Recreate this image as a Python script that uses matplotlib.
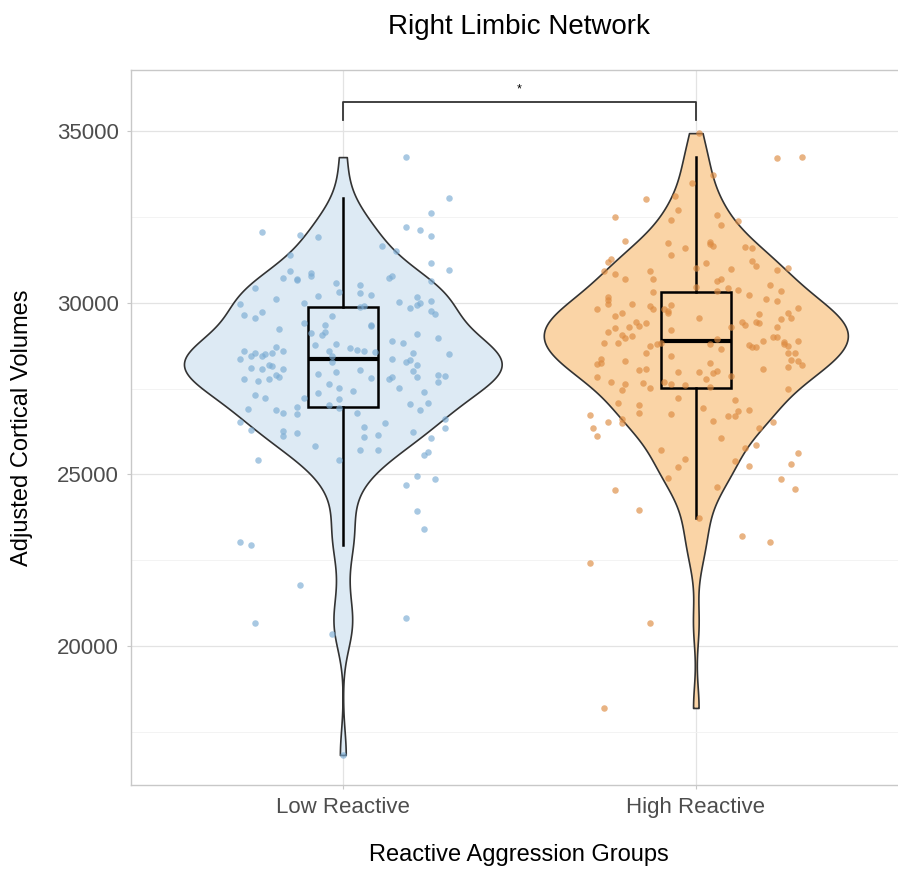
import numpy as np
import matplotlib
matplotlib.use("Agg")
import matplotlib.pyplot as plt

plt.rcParams['font.family'] = ['Liberation Sans', 'DejaVu Sans']

# ================= DATA =================
GROUPS = ["Low Reactive", "High Reactive"]

# values (adjusted cortical volume)
low_values = [
    32058, 31962, 31904, 31380, 30922, 30727, 30681, 30660, 30855, 30777,
    30582, 30436, 30302, 30107, 30203, 29999, 29952, 29641, 29545, 29737,
    29612, 29242, 29408, 29341, 29125, 29137, 29067, 28776, 28805, 28718,
    28601, 28592, 28447, 28525, 28447, 28496, 28525, 28584, 28447,
    34243, 33057, 32612, 32195, 32125, 31933, 31659, 31505, 31147, 30960,
    30727, 30785, 30640, 30515, 30273, 30215, 30165, 30019, 30040, 29912,
    29865, 29836, 29941, 29982, 29757, 29679, 29329, 29350, 29096, 28971,
    28875, 28825, 28680, 28621, 28592, 28563, 28525, 28514, 28359, 28330,
    28359, 28106, 28077, 28185, 28155, 28059, 27785, 27718, 27768, 27893,
    27844, 27320, 27215, 27232, 26912, 26874, 26795, 26961, 26757, 26533,
    26283, 26253, 26108, 26213, 25834, 25409, 25417, 23020, 22942, 27922,
    27622, 27972, 27515, 27369, 27185, 27028, 26923, 28281,
    28263, 28193, 28018, 27844, 28030, 27806, 27844, 27777, 27506, 27902,
    27864, 27680, 27407, 27427, 27057, 27078, 26883, 26795, 26495, 26379,
    26096, 26137, 26242, 26603, 26358, 26058, 25717, 25700, 25651, 25563,
    24960, 24855, 24681, 23932, 23416,
    21768, 20679, 20350, 16825, 20807,
]
# horizontal jitter of each point (category units)
low_jitter = [
    -0.23, -0.12, -0.07, -0.15, -0.15, -0.17, -0.13, -0.13, -0.09, -0.09,
    -0.02, -0.25, -0.01, -0.19, -0.07, -0.11, -0.29, -0.28, -0.25, -0.23,
    -0.03, -0.18, -0.11, -0.05, -0.09, -0.05, -0.06, -0.08, -0.02, -0.19,
    -0.17, -0.28, -0.26, -0.25, -0.23, -0.22, -0.20, -0.04, -0.03,
    0.18, 0.30, 0.25, 0.18, 0.22, 0.25, 0.11, 0.15, 0.25, 0.30,
    0.13, 0.14, 0.25, 0.05, 0.05, 0.08, 0.21, 0.16, 0.25, 0.06,
    0.05, 0.19, 0.21, 0.22, 0.25, 0.26, 0.08, 0.08, 0.21, 0.27,
    0.14, 0.17, 0.02, 0.04, 0.06, 0.09, 0.20, 0.30, 0.14, 0.19,
    -0.29, -0.26, -0.23, -0.21, -0.20, -0.17, -0.28, -0.24, -0.21, -0.19,
    -0.18, -0.25, -0.22, -0.11, -0.27, -0.19, -0.17, -0.13, -0.13, -0.29,
    -0.26, -0.17, -0.17, -0.13, -0.08, -0.24, -0.01, -0.29, -0.26, -0.07,
    -0.04, -0.02, -0.01, -0.07, -0.01, -0.04, -0.01, -0.03,
    0.18, 0.21, 0.20, 0.21, 0.05, 0.08, 0.14, 0.13, 0.16, 0.27,
    0.29, 0.27, 0.23, 0.03, 0.19, 0.24, 0.22, 0.04, 0.12, 0.06,
    0.06, 0.10, 0.20, 0.29, 0.29, 0.25, 0.05, 0.10, 0.24, 0.23,
    0.21, 0.26, 0.18, 0.21, 0.23,
    -0.12, -0.25, -0.03, 0.00, 0.18,
]

high_values = [
    33028, 33098, 33485, 32699, 32495, 32417, 31805, 31729, 31388, 31584,
    31176, 31281, 30922, 30826, 30681, 30922, 30698, 31018, 30302, 30448,
    30174, 30086, 29961, 29807, 29970, 29903, 29824, 29612, 29708, 29824,
    29757, 29932, 29690, 29446, 29329, 29417, 29154, 29271, 29291, 29195,
    29545,
    34942, 34222, 34243, 33718, 32562, 32262, 32370, 31776, 31709, 31642,
    31613, 31601, 31222, 31059, 31164, 30981, 30951, 31018, 30698, 30631,
    30515, 30340, 30436, 30369, 30340, 30215, 30098, 30049, 29836, 29708,
    29545, 29661, 29524, 29446, 29350, 29428, 29399, 29291, 29291,
    29058, 28962, 29038, 28816, 28816, 28738, 28796, 28816, 28525, 28368,
    28222, 28251, 28310, 28455, 28030, 28077, 27989, 27826, 27680, 27622,
    27456, 27669, 27506, 27680, 27622, 27593, 27232, 27069, 27011, 26795,
    26766, 26728, 26515, 26486, 26603, 26358, 26125, 25709, 25455, 25222,
    24902, 24544, 23970,
    28796, 28942, 28659, 28243, 27989, 27943, 28018, 27785, 27873, 27535,
    28767, 28700, 28700, 28884, 29009, 29009, 28863, 28796, 28747, 28884,
    28543, 28543, 28339, 28310, 28176, 28117, 28059, 27494, 27156, 26941,
    26708, 26699, 26853, 26883, 26562, 26524, 26350, 26067, 25758, 25846,
    25613, 25310, 25388, 25243, 24873, 24564, 24640, 23719,
    23204, 23029, 22418, 20661, 18194,
]
high_jitter = [
    -0.14, -0.06, -0.01, -0.05, -0.23, -0.07, -0.20, -0.08, -0.07, -0.03,
    -0.25, -0.24, -0.26, -0.23, -0.20, -0.13, -0.12, 0.00, -0.12, 0.00,
    -0.25, -0.25, -0.25, -0.28, -0.18, -0.13, -0.12, -0.23, -0.21, -0.09,
    -0.08, -0.07, -0.08, -0.17, -0.16, -0.14, -0.25, -0.23, -0.19, -0.07,
    0.01,
    0.01, 0.23, 0.30, 0.05, 0.06, 0.07, 0.12, 0.04, 0.04, 0.05,
    0.14, 0.16, 0.16, 0.17, 0.03, 0.10, 0.23, 0.26, 0.07, 0.06,
    0.21, 0.24, 0.09, 0.12, 0.06, 0.15, 0.20, 0.23, 0.29, 0.26,
    0.27, 0.18, 0.24, 0.13, 0.14, 0.17, 0.18, 0.23, 0.10,
    -0.21, -0.20, -0.18, -0.26, -0.22, -0.13, -0.11, -0.10, -0.14, -0.27,
    -0.28, -0.27, -0.20, -0.07, -0.16, -0.14, -0.05, -0.28, -0.24, -0.20,
    -0.21, -0.15, -0.13, -0.09, -0.07, -0.03, -0.05, -0.22, -0.16, -0.16,
    -0.07, -0.30, -0.25, -0.21, -0.21, -0.29, -0.28, -0.10, -0.03, -0.05,
    -0.08, -0.23, -0.16,
    0.04, 0.06, 0.07, 0.04, 0.01, 0.05, 0.06, 0.03, 0.10, 0.04,
    0.15, 0.16, 0.17, 0.19, 0.22, 0.23, 0.25, 0.25, 0.26, 0.29,
    0.26, 0.28, 0.27, 0.29, 0.30, 0.26, 0.19, 0.26, 0.11, 0.02,
    0.09, 0.11, 0.12, 0.15, 0.05, 0.22, 0.18, 0.07, 0.14, 0.17,
    0.29, 0.27, 0.11, 0.15, 0.24, 0.28, 0.06, 0.01,
    0.13, 0.21, -0.30, -0.13, -0.26,
]

Y_TICKS = [20000, 25000, 30000, 35000]
SIG_LABEL = "*"

# ================= STYLE =================
FILL_COLORS = ["#ddeaf4", "#fad4a6"]
POINT_COLORS = ["#7aabd3", "#dc8a40"]
EDGE = "#333333"


def nrd0(x):
    # R's default bandwidth (bw.nrd0), same as ggplot's geom_violin
    x = np.asarray(x, float)
    sd = x.std(ddof=1)
    q75, q25 = np.percentile(x, [75, 25])
    lo = min(sd, (q75 - q25) / 1.34)
    return 0.9 * lo * len(x) ** (-0.2)


def density(x, n=512):
    x = np.asarray(x, float)
    bw = nrd0(x)
    grid = np.linspace(x.min(), x.max(), n)
    z = (grid[:, None] - x[None, :]) / bw
    dens = np.exp(-0.5 * z ** 2).sum(axis=1) / (len(x) * bw * np.sqrt(2 * np.pi))
    return grid, dens


fig = plt.figure(figsize=(8.98, 8.69), dpi=100)
ax = fig.add_axes([0.1459, 0.0967, 0.8648, 0.8227])

data = [low_values, high_values]
jitters = [low_jitter, high_jitter]
dens_all = [density(d) for d in data]
max_dens = max(d.max() for _, d in dens_all)

for i, (grid, dens) in enumerate(dens_all):
    pos = i + 1
    half = dens / max_dens * 0.45
    ax.fill_betweenx(grid, pos - half, pos + half, facecolor=FILL_COLORS[i],
                     edgecolor=EDGE, linewidth=1.2, zorder=2)

# boxplots (no fliers, transparent boxes)
ax.boxplot(data, positions=[1, 2], widths=0.2, showfliers=False,
           patch_artist=True, manage_ticks=False,
           boxprops=dict(facecolor="none", edgecolor="black", linewidth=1.8),
           whiskerprops=dict(color="black", linewidth=1.8),
           capprops=dict(linewidth=0),
           medianprops=dict(color="black", linewidth=3),
           zorder=3)

# jittered points
for i, (vals, jit) in enumerate(zip(data, jitters)):
    xs = np.array(jit) + i + 1
    ax.scatter(xs, vals, s=22, color=POINT_COLORS[i], alpha=0.65,
               linewidths=0, zorder=4)

# significance bracket
br_low, br_high = 35320, 35845
ax.plot([1, 1, 2, 2], [br_low, br_high, br_high, br_low], color="#333333",
        linewidth=1.3, zorder=5)
ax.text(1.5, 36030, SIG_LABEL, ha="center", va="bottom", fontsize=9)

# axes styling (theme_light look)
ax.set_xlim(0.4, 2.6)
ax.set_ylim(15950, 36780)
ax.set_xticks([1, 2])
ax.set_xticklabels(GROUPS)
ax.set_yticks(Y_TICKS)
ax.set_yticks([17500, 22500, 27500, 32500], minor=True)
ax.set_xticks([1.5], minor=True)
ax.grid(True, which="major", color="#e3e3e3", linewidth=0.9, zorder=0)
ax.grid(True, which="minor", axis="y", color="#f1f1f1", linewidth=0.6, zorder=0)
ax.set_axisbelow(True)
for sp in ax.spines.values():
    sp.set_color("#c8c8c8")
    sp.set_linewidth(1.0)
ax.tick_params(axis="both", which="major", length=3, color="#c8c8c8",
               labelsize=16, labelcolor="#4d4d4d", pad=6)
ax.tick_params(axis="both", which="minor", length=0)

fig.text(0.578, 0.969, "Right Limbic Network", ha="center", va="center",
         fontsize=20)
fig.text(0.578, 0.016, "Reactive Aggression Groups", ha="center", va="center",
         fontsize=17)
fig.text(0.024, 0.508, "Adjusted Cortical Volumes", ha="center", va="center",
         rotation=90, fontsize=17)

fig.savefig("out.png", dpi=100)
